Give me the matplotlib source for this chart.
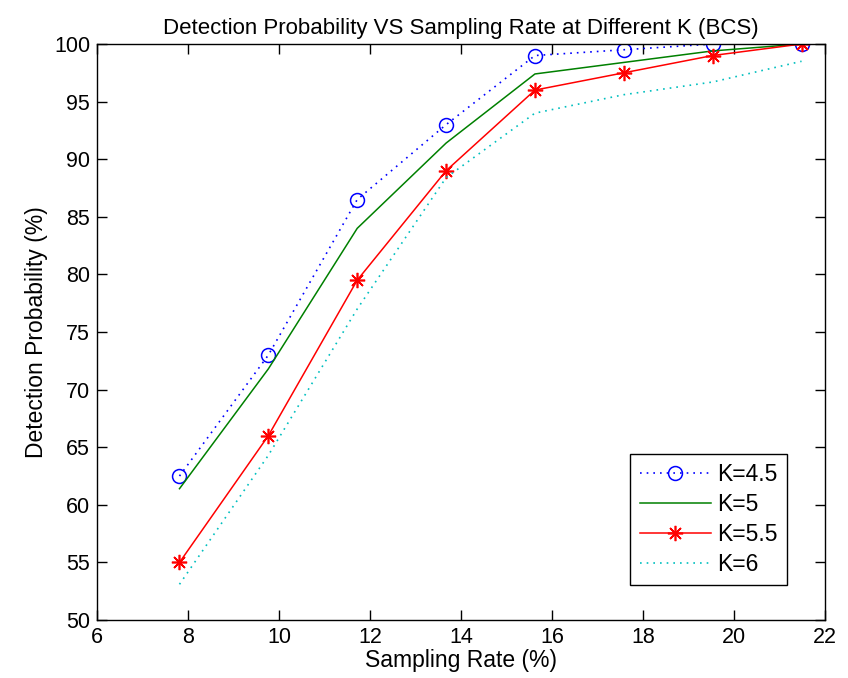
import matplotlib
matplotlib.use("Agg")
import matplotlib.pyplot as plt

plt.rcParams['font.family'] = ['Liberation Sans', 'DejaVu Sans']

sampling_rate = [7.8125, 9.7656, 11.7188, 13.6719, 15.625, 17.5781, 19.5313, 21.4844]
k45 = [62.5, 73.0, 86.5, 93.0, 99.0, 99.5, 100.0, 100.0]
k5 = [61.4, 71.8, 84.0, 91.4, 97.4, 98.4, 99.4, 100.0]
k55 = [55.0, 66.0, 79.5, 89.0, 96.0, 97.5, 99.0, 100.0]
k6 = [53.1, 64.3, 77.0, 88.4, 94.0, 95.6, 96.7, 98.5]
labels = ['K=4.5', 'K=5', 'K=5.5', 'K=6']

dotted = (0, (1, 3))

fig = plt.figure(figsize=(8.48, 6.78), dpi=100)
ax = fig.add_axes([0.1144, 0.0855, 0.8585, 0.8496])

ax.plot(sampling_rate, k45, linestyle=dotted, color='#0000ff', marker='o', markersize=10,
        markerfacecolor='none', markeredgecolor='#0000ff', markeredgewidth=1.1,
        linewidth=1.2, label=labels[0])
ax.plot(sampling_rate, k5, linestyle='-', color='#008000', linewidth=1.1, label=labels[1])
ax.plot(sampling_rate, k55, linestyle='-', color='#ff0000', marker=(8, 2, 0), markersize=11,
        markeredgewidth=1.2, linewidth=1.1, label=labels[2])
ax.plot(sampling_rate, k6, linestyle=dotted, color='#00bfbf', linewidth=1.2, label=labels[3])

ax.set_xlim(6, 22)
ax.set_ylim(50, 100)
ax.set_xticks(range(6, 23, 2))
ax.set_yticks(range(50, 101, 5))
ax.tick_params(direction='in', top=True, right=True, labelsize=15.5, length=7, width=1, pad=5)
for s in ax.spines.values():
    s.set_linewidth(1.0)

ax.set_title('Detection Probability VS Sampling Rate at Different K (BCS)', fontsize=16, pad=7)
ax.set_xlabel('Sampling Rate (%)', fontsize=16.5, labelpad=1)
ax.set_ylabel('Detection Probability (%)', fontsize=16.5, labelpad=4)

leg = ax.legend(loc='lower right', bbox_to_anchor=(0.948, 0.061), fontsize=16.5,
                fancybox=False, edgecolor='black', framealpha=1, borderaxespad=0,
                numpoints=1, handlelength=3.1, labelspacing=0.3, borderpad=0.4,
                handletextpad=0.3)
leg.get_frame().set_linewidth(1.0)

fig.savefig('out.png', dpi=100)
